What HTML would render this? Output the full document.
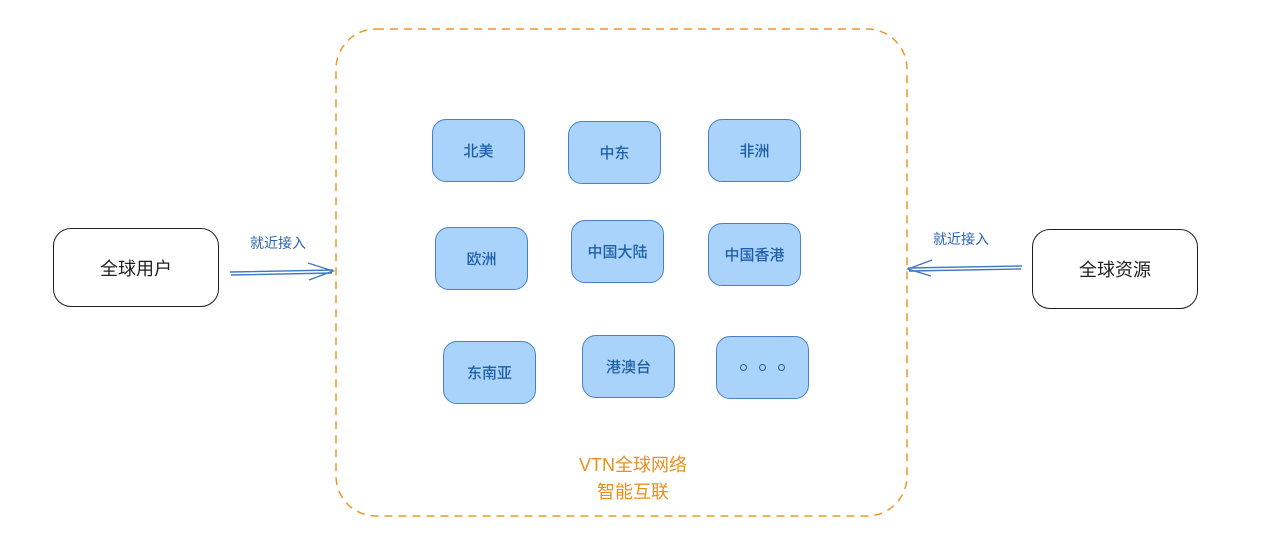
<!DOCTYPE html>
<html><head><meta charset="utf-8"><style>
body{margin:0;width:1280px;height:550px;background:#fff;overflow:hidden;position:relative;font-family:"Liberation Sans","Noto Sans CJK SC",sans-serif}
.b{position:absolute;width:93px;height:63px;background:#a9d3fa;border:1.5px solid #4a80c8;border-radius:14px;box-sizing:border-box;display:flex;align-items:center;justify-content:center;color:#1f5fa8;font-size:15px;font-weight:500}
.n{position:absolute;border:1.5px solid #1e1e1e;border-radius:18px;box-sizing:border-box;display:flex;align-items:center;justify-content:center;font-size:18px;color:#1e1e1e}
.l{position:absolute;color:#2a64b0;font-size:14px}
.d{display:inline-block;width:5px;height:5px;border:1.5px solid #1f5fa8;border-radius:50%;margin:0 6px}
</style></head><body>
<svg width="1280" height="550" style="position:absolute;left:0;top:0">
<rect x="336" y="29" width="571" height="487" rx="40" fill="none" stroke="#f0962a" stroke-width="1.5" stroke-dasharray="8 6"/>
<g stroke="#3f78c4" stroke-width="1.4" fill="none">
<path d="M230 272 L333 270 M231 275 L332 273 M308 263 L333 271 L309 280"/>
<path d="M1022 266 L908 268 M1021 269 L909 271 M932 260 L908 269 L931 276"/>
</g>
</svg>
<div class="n" style="left:53px;top:228px;width:166px;height:79px">全球用户</div>
<div class="n" style="left:1032px;top:229px;width:166px;height:80px">全球资源</div>
<div class="l" style="left:250px;top:233px">就近接入</div>
<div class="l" style="left:933px;top:229px">就近接入</div>
<div class="b" style="left:432px;top:119px">北美</div>
<div class="b" style="left:568px;top:121px">中东</div>
<div class="b" style="left:708px;top:119px">非洲</div>
<div class="b" style="left:435px;top:227px">欧洲</div>
<div class="b" style="left:571px;top:220px">中国大陆</div>
<div class="b" style="left:708px;top:223px">中国香港</div>
<div class="b" style="left:443px;top:341px">东南亚</div>
<div class="b" style="left:582px;top:335px">港澳台</div>
<div class="b" style="left:716px;top:336px"><span class="d"></span><span class="d"></span><span class="d"></span></div>
<div style="position:absolute;left:533px;top:452px;width:200px;text-align:center;color:#e8901f;font-size:18px;line-height:27px">VTN全球网络<br>智能互联</div>
</body></html>
